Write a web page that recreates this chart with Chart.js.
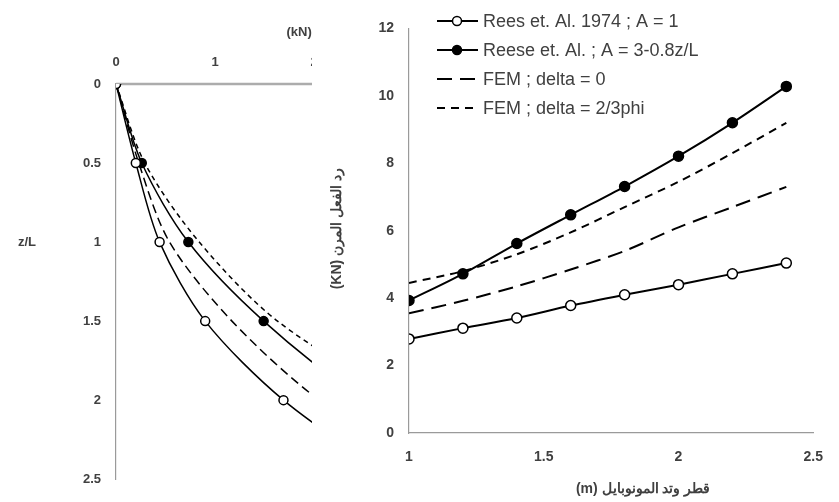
<!DOCTYPE html>
<html>
<head>
<meta charset="utf-8">
<script src="https://cdn.jsdelivr.net/npm/chart.js@4.4.1/dist/chart.umd.min.js"></script>
<style>
  html, body { margin: 0; padding: 0; background: #fff; }
  body { width: 839px; height: 502px; position: relative; overflow: hidden; }
  #leftBox { position: absolute; left: 0; top: 0; width: 530px; height: 502px; }
  #rightBox { position: absolute; left: 312px; top: 5px; width: 527px; height: 497px; background: #fff; }
</style>
</head>
<body>
<div id="leftBox"><canvas id="depthChart"></canvas></div>
<div id="rightBox"><canvas id="diameterChart"></canvas></div>
<script>
// series names (shared by both panels)
const seriesNames = ['Rees et. Al. 1974 ; A = 1', 'Reese et. Al. ; A = 3-0.8z/L', 'FEM ; delta = 0', 'FEM ; delta = 2/3phi'];

// left panel: load (kN) along depth z/L
const depthRatio = [0, 0.5, 1, 1.5, 2, 2.5];
const depthRees = [0, 0.20, 0.44, 0.90, 1.69, 2.8];
const depthReese = [0, 0.26, 0.73, 1.49, 2.5, 3.8];
const depthFem0 = [0, 0.23, 0.54, 1.17, 2.05, 3.3];
const depthFemPhi = [0, 0.29, 0.84, 1.63, 2.9, 4.4];
const depthTicks = [0, 0.5, 1, 1.5, 2, 2.5];

// right panel: reaction (kN) vs monopile diameter (m)
const diameters = [1, 1.2, 1.4, 1.6, 1.8, 2, 2.2, 2.4];
const reesA1 = [2.79, 3.11, 3.41, 3.78, 4.10, 4.40, 4.72, 5.04];
const reeseA = [3.93, 4.72, 5.62, 6.47, 7.31, 8.21, 9.20, 10.28];
const femDelta0 = [3.55, 3.92, 4.35, 4.85, 5.40, 6.10, 6.70, 7.30];
const femDeltaPhi = [4.45, 4.80, 5.30, 5.95, 6.70, 7.45, 8.30, 9.20];

const textColor = '#404040';
const plainNum = v => String(Math.round(v * 100) / 100);

function pairs(xs, ys) {
    return xs.map((x, i) => ({ x: x, y: ys[i] }));
}

function makeSets(xs, lists, lineW, radius, longDash, shortDash) {
    const styles = [
        { dash: [], radius: radius, fill: '#fff' },
        { dash: [], radius: radius, fill: '#000' },
        { dash: longDash, radius: 0, fill: '#000' },
        { dash: shortDash, radius: 0, fill: '#000' }
    ];
    return lists.map((ys, i) => ({
        label: seriesNames[i],
        data: typeof xs === 'function' ? xs(ys) : pairs(xs, ys),
        borderColor: '#000',
        borderWidth: lineW,
        borderDash: styles[i].dash,
        pointRadius: styles[i].radius,
        pointBackgroundColor: styles[i].fill,
        pointBorderColor: '#000',
        pointBorderWidth: 1.5,
        tension: 0.3,
        fill: false
    }));
}

// Left panel - depth is the vertical axis, so swap x and y
const leftSets = makeSets(loads => pairs(loads, depthRatio),
    [depthRees, depthReese, depthFem0, depthFemPhi], 1.5, 4.5, [9, 5], [5, 4]);

const leftLabels = {
    id: 'leftLabels',
    beforeDatasetsDraw(chart) {
        // top axis line (kept under the origin marker)
        const ctx = chart.ctx;
        const x = chart.scales.x;
        const top = chart.scales.y.getPixelForValue(0);
        ctx.save();
        ctx.strokeStyle = '#acacac';
        ctx.lineWidth = 2.5;
        ctx.beginPath();
        ctx.moveTo(x.getPixelForValue(0), top);
        ctx.lineTo(x.getPixelForValue(4), top);
        ctx.stroke();
        ctx.restore();
    },
    afterDraw(chart) {
        const ctx = chart.ctx;
        const y = chart.scales.y;
        const x = chart.scales.x;
        ctx.save();
        ctx.fillStyle = textColor;
        ctx.font = 'bold 13px Arial';
        ctx.textBaseline = 'middle';
        ctx.textAlign = 'center';
        ctx.fillText('z/L', 27, y.getPixelForValue(1));
        ctx.textAlign = 'left';
        ctx.fillText('(kN)', x.getPixelForValue(1.72), 32);
        ctx.restore();
    }
};

new Chart(document.getElementById('depthChart'), {
    type: 'line',
    data: { datasets: leftSets },
    plugins: [leftLabels],
    options: {
        responsive: true,
        maintainAspectRatio: false,
        animation: false,
        layout: { padding: { left: 0, top: 0, right: 14, bottom: 20 } },
        plugins: { legend: { display: false }, tooltip: { enabled: false } },
        scales: {
            x: {
                type: 'linear',
                position: 'top',
                min: 0,
                max: 4,
                afterFit: s => { s.height = 84; },
                grid: { display: false, drawTicks: false },
                border: { display: false },
                ticks: { stepSize: 1, padding: 14, color: textColor, callback: plainNum, font: { family: 'Arial', size: 13, weight: 'bold' } }
            },
            y: {
                type: 'linear',
                reverse: true,
                min: 0,
                max: 2.5,
                afterFit: s => { s.width = 116; },
                afterBuildTicks: s => { s.ticks = depthTicks.map(v => ({ value: v })); },
                grid: { display: false, drawTicks: false },
                border: { display: true, color: '#9a9a9a', width: 1.2 },
                ticks: { padding: 15, color: textColor, callback: plainNum, font: { family: 'Arial', size: 13, weight: 'bold' } }
            }
        }
    }
});

// Right panel
const rightSets = makeSets(diameters, [reesA1, reeseA, femDelta0, femDeltaPhi], 2, 5, [15, 8], [8, 6]);

const rightLabels = {
    id: 'rightLabels',
    afterDraw(chart) {
        const ctx = chart.ctx;
        const area = chart.chartArea;
        ctx.save();
        // legend
        const x0 = area.left + 28;
        chart.data.datasets.forEach((ds, i) => {
            const y = 16 + i * 29;
            ctx.strokeStyle = ds.borderColor;
            ctx.lineWidth = 2;
            ctx.setLineDash(ds.borderDash);
            ctx.beginPath();
            ctx.moveTo(x0, y);
            ctx.lineTo(x0 + 41, y);
            ctx.stroke();
            ctx.setLineDash([]);
            if (ds.pointRadius > 0) {
                ctx.lineWidth = 1.5;
                ctx.beginPath();
                ctx.arc(x0 + 20, y, 4.5, 0, Math.PI * 2);
                ctx.fillStyle = ds.pointBackgroundColor;
                ctx.fill();
                ctx.stroke();
            }
            ctx.fillStyle = textColor;
            ctx.font = '18px Arial';
            ctx.textAlign = 'left';
            ctx.textBaseline = 'middle';
            ctx.fillText(ds.label, x0 + 46, y + 1);
        });
        // axis titles
        ctx.fillStyle = textColor;
        ctx.font = 'bold 14px Arial';
        ctx.textAlign = 'center';
        ctx.textBaseline = 'middle';
        ctx.fillText('(m) قطر وتد المونوبايل', (area.left + area.right) / 2 + 32, 484);
        ctx.translate(25, (area.top + area.bottom) / 2 - 2);
        ctx.rotate(-Math.PI / 2);
        ctx.fillText('(KN) رد الفعل المرن', 0, 0);
        ctx.restore();
    }
};

new Chart(document.getElementById('diameterChart'), {
    type: 'line',
    data: { datasets: rightSets },
    plugins: [rightLabels],
    options: {
        responsive: true,
        maintainAspectRatio: false,
        animation: false,
        layout: { padding: { left: 0, top: 15, right: 11, bottom: 0 } },
        plugins: { legend: { display: false }, tooltip: { enabled: false } },
        scales: {
            x: {
                type: 'linear',
                min: 1,
                max: 2.5,
                afterFit: s => { s.height = 69; },
                grid: { display: false, drawTicks: false },
                border: { display: true, color: '#9a9a9a', width: 1.2 },
                ticks: { stepSize: 0.5, padding: 16, color: textColor, callback: plainNum, font: { family: 'Arial', size: 14, weight: 'bold' } }
            },
            y: {
                type: 'linear',
                min: 0,
                max: 12,
                afterFit: s => { s.width = 97; },
                grid: { display: false, drawTicks: false },
                border: { display: true, color: '#9a9a9a', width: 1.2 },
                ticks: { stepSize: 2, padding: 15, color: textColor, callback: plainNum, font: { family: 'Arial', size: 14, weight: 'bold' } }
            }
        }
    }
});
</script>
</body>
</html>
